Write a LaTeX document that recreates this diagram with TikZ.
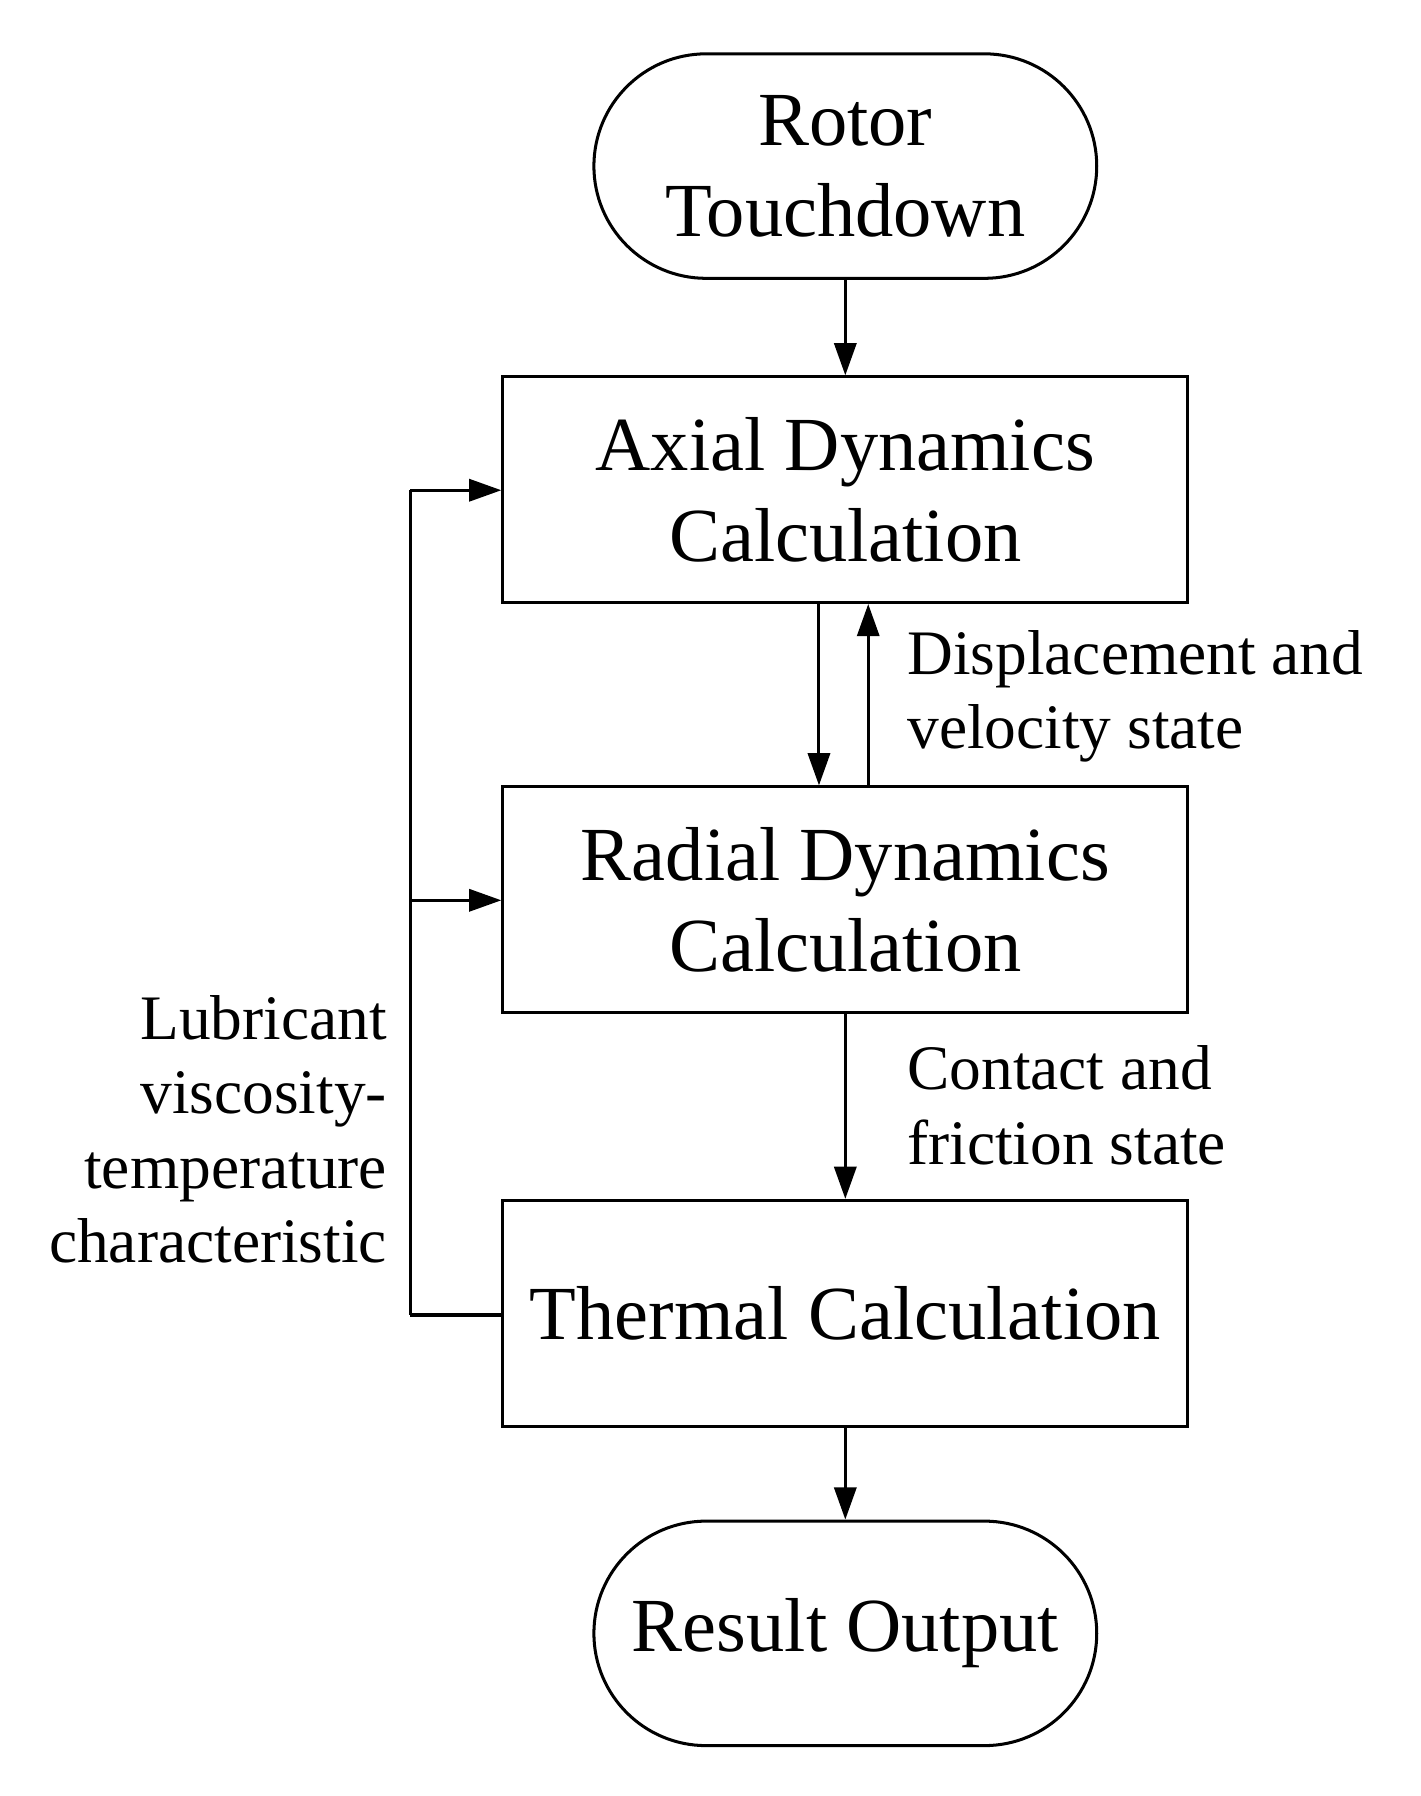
\documentclass[tikz,border=0pt]{standalone}
\usepackage{fontspec}
\setmainfont{Liberation Serif}
\usetikzlibrary{arrows.meta}
\begin{document}
\begin{tikzpicture}[x=0.02cm,y=-0.02cm,line width=1.5pt,
  box/.style={draw,minimum width=598*0.02cm,minimum height=197*0.02cm,align=center,font=\fontsize{38}{45}\selectfont},
  term/.style={draw,rounded corners=98*0.02cm,minimum width=439*0.02cm,minimum height=196*0.02cm,align=center,font=\fontsize{38}{45}\selectfont},
  lbl/.style={font=\fontsize{31.5}{37}\selectfont},
  arr/.style={-{Triangle[length=16pt,width=11pt]}}]
\useasboundingbox (0,0) rectangle (1240,1568);
\node[term] (start) at (738,145) {Rotor\\Touchdown};
\node[box] (axial) at (738,427.5) {Axial Dynamics\\Calculation};
\node[box] (radial) at (738,785.5) {Radial Dynamics\\Calculation};
\node[box] (thermal) at (738,1146.5) {Thermal Calculation};
\node[term] (result) at (738,1426) {Result Output};
\draw[arr] (start) -- (axial);
\draw[arr] (axial.south -| 715,0) -- (radial.north -| 715,0);
\draw[arr] (radial.north -| 758,0) -- (axial.south -| 758,0);
\draw[arr] (radial) -- (thermal);
\draw[arr] (thermal) -- (result);
\coordinate (fb) at (358,1148);
\coordinate (top) at (358,428);
\coordinate (mid) at (358,786);
\draw (top) -- (fb);
\draw[line width=2.2pt] (thermal.west |- fb) -- (fb);
\draw[arr] (top) -- (axial.west |- top);
\draw[arr] (mid) -- (radial.west |- mid);
\node[lbl,align=left,anchor=west] (l1) at (785,608) {Displacement and\\velocity state};
\node[lbl,align=left,anchor=west] (l2) at (785,965) {Contact and\\friction state};
\node[lbl,align=right,anchor=east] (l3) at (345,986) {Lubricant\\viscosity-\\temperature\\characteristic};
\end{tikzpicture}
\end{document}
